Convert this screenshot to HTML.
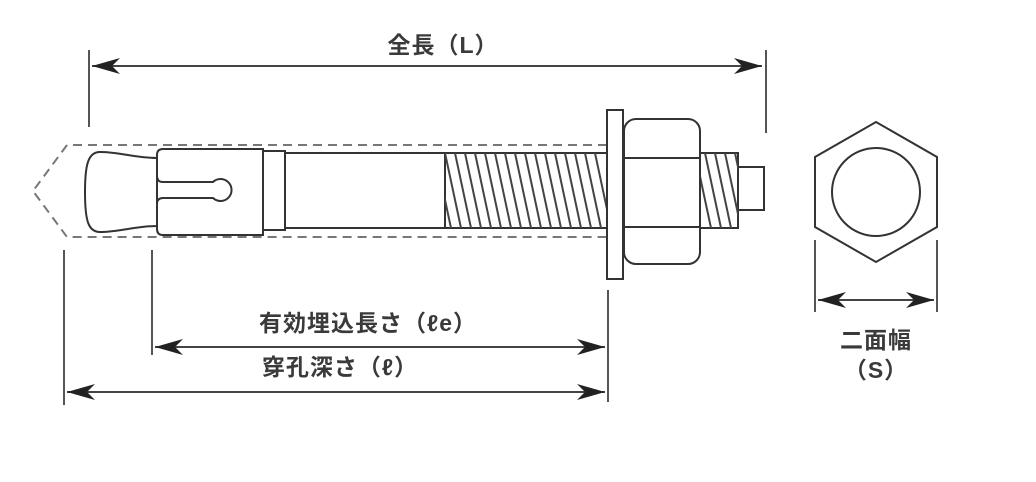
<!DOCTYPE html>
<html><head><meta charset="utf-8"><style>
html,body{margin:0;padding:0;background:#fff;}
svg{display:block;}
text{font-family:"Liberation Sans","Noto Sans CJK JP",sans-serif;fill:#3a3a3a;font-size:23px;font-weight:bold;letter-spacing:1px;}
</style></head><body>
<svg width="1036" height="482" viewBox="0 0 1036 482" xmlns="http://www.w3.org/2000/svg">
<defs>
<marker id="ah" markerWidth="30" markerHeight="16" refX="28" refY="8" orient="auto-start-reverse" markerUnits="userSpaceOnUse">
<path d="M0,0 L28,8 L0,16 L8,8 Z" fill="#222"/>
</marker>
<clipPath id="t1"><rect x="445" y="150" width="162" height="82"/></clipPath>
<clipPath id="t2"><rect x="700" y="150" width="38" height="82"/></clipPath>
</defs>
<g stroke="#555" stroke-width="2" fill="none">
<line x1="89" y1="50" x2="89" y2="127"/>
<line x1="766" y1="50" x2="766" y2="133"/>
<line x1="64" y1="250" x2="64" y2="405"/>
<line x1="152" y1="250" x2="152" y2="355"/>
<line x1="608" y1="290" x2="608" y2="402"/>
<line x1="815" y1="240" x2="815" y2="312"/>
<line x1="937" y1="240" x2="937" y2="312"/>
</g>
<g stroke="#444" stroke-width="2" fill="none">
<line x1="92" y1="66" x2="762" y2="66" marker-start="url(#ah)" marker-end="url(#ah)"/>
<line x1="155" y1="347" x2="605" y2="347" marker-start="url(#ah)" marker-end="url(#ah)"/>
<line x1="67" y1="392" x2="605" y2="392" marker-start="url(#ah)" marker-end="url(#ah)"/>
<line x1="818" y1="300" x2="934" y2="300" marker-start="url(#ah)" marker-end="url(#ah)"/>
</g>
<path d="M607,145 L67,145 L33,191 L67,237 L607,237" stroke="#777" stroke-width="2" stroke-dasharray="9,6" fill="none"/>
<g stroke="#333" stroke-width="2" fill="#fff">
<path d="M157,158 C135,158 120,152 100,152 C88,152 85,165 85,192 C85,220 88,232 100,232 C120,232 135,226 157,226 Z"/>
<path d="M163,149 L263,149 L263,235 L163,235 Q157,235 157,229 L157,204 Q157,198 163,198 L213,198 A11,11 0 1,0 213,182 L163,182 Q157,182 157,176 L157,155 Q157,149 163,149 Z"/>
<rect x="263" y="151" width="22" height="79"/>
<rect x="285" y="153" width="160" height="75"/>
<rect x="445" y="153" width="162" height="75"/>
<rect x="700" y="153" width="38" height="75"/>
<rect x="738" y="167" width="26" height="43"/>
</g>
<g stroke="#444" stroke-width="2" clip-path="url(#t1)">
<line x1="445" y1="153" x2="461" y2="228"/><line x1="455" y1="153" x2="471" y2="228"/><line x1="465" y1="153" x2="481" y2="228"/><line x1="475" y1="153" x2="491" y2="228"/><line x1="485" y1="153" x2="501" y2="228"/><line x1="495" y1="153" x2="511" y2="228"/><line x1="505" y1="153" x2="521" y2="228"/><line x1="515" y1="153" x2="531" y2="228"/><line x1="525" y1="153" x2="541" y2="228"/><line x1="535" y1="153" x2="551" y2="228"/><line x1="545" y1="153" x2="561" y2="228"/><line x1="555" y1="153" x2="571" y2="228"/><line x1="565" y1="153" x2="581" y2="228"/><line x1="575" y1="153" x2="591" y2="228"/><line x1="585" y1="153" x2="601" y2="228"/><line x1="595" y1="153" x2="611" y2="228"/><line x1="435" y1="153" x2="451" y2="228"/>
</g>
<g stroke="#444" stroke-width="2" clip-path="url(#t2)">
<line x1="695" y1="153" x2="711" y2="228"/><line x1="705" y1="153" x2="721" y2="228"/><line x1="715" y1="153" x2="731" y2="228"/><line x1="725" y1="153" x2="741" y2="228"/><line x1="735" y1="153" x2="751" y2="228"/>
</g>
<g stroke="#333" stroke-width="2" fill="#fff">
<rect x="607" y="110" width="16" height="169"/>
<rect x="624" y="119" width="76" height="145" rx="12"/>
<line x1="624" y1="158" x2="700" y2="158"/>
<line x1="624" y1="227" x2="700" y2="227"/>
<polygon points="876,122 937,157 937,227 876,262 815,227 815,157"/>
<circle cx="876" cy="192" r="44"/>
</g>
<text x="443" y="53" text-anchor="middle">全長（L）</text>
<text x="368" y="331" text-anchor="middle">有効埋込長さ（ℓe）</text>
<text x="340" y="375" text-anchor="middle">穿孔深さ（ℓ）</text>
<text x="876" y="348" text-anchor="middle">二面幅</text>
<text x="876" y="378" text-anchor="middle">（S）</text>
</svg>
</body></html>
